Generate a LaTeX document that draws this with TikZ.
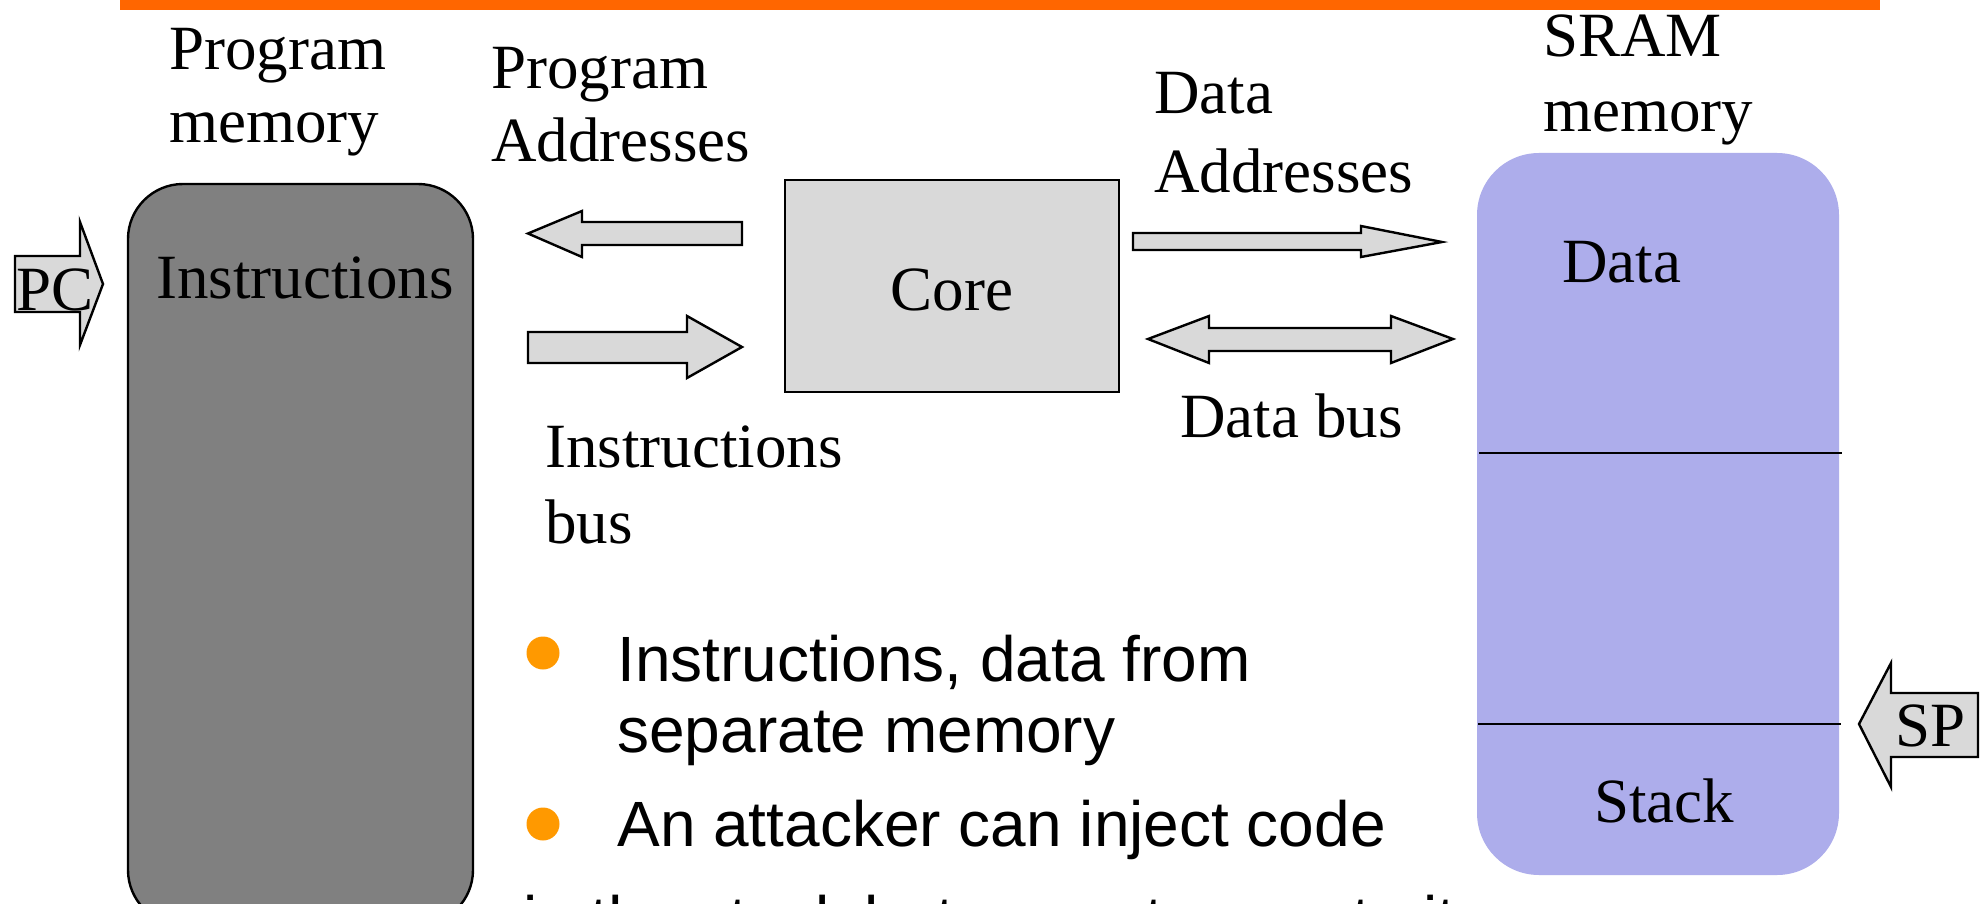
\documentclass[tikz,border=0pt]{standalone}
\usepackage{fontspec}
\setmainfont{Liberation Serif}
\newfontfamily\arialfont{Liberation Sans}
\definecolor{rulecolor}{RGB}{255,102,0}
\definecolor{dotorange}{RGB}{255,153,0}
\definecolor{progmem}{RGB}{128,128,128}
\definecolor{lightfill}{RGB}{217,217,217}
\definecolor{sramfill}{RGB}{173,173,235}
\tikzset{
  txt/.style={inner sep=0pt, anchor=base west, font=\fontsize{31.5}{37}\selectfont},
  bultxt/.style={inner sep=0pt, anchor=base west, font=\arialfont\fontsize{32}{38}\selectfont},
  blockarrow/.style={draw=black, fill=lightfill, line width=1.2pt, line join=miter},
  bulletdot/.style={circle, fill=dotorange, inner sep=0pt, minimum size=16.5pt},
}
\begin{document}
\begin{tikzpicture}[x=0.5pt, y=-0.5pt]
\useasboundingbox (0,0) rectangle (1988,904);
\fill[white] (0,0) rectangle (1988,904);

% title rule
\fill[rulecolor] (120,0) rectangle (1880,10);

% program memory
\draw[fill=progmem, line width=1.2pt, rounded corners=27.5pt] (128,184) rectangle (473,925);
\node[txt] (pm1) at (169,70) {Program};
\node[txt] (pm2) at (169,143) {memory};
\node[txt] (instr) at (156,298) {Instructions};

% PC pointer
\draw[blockarrow] (15,256) -- (80,256) -- (80,222) -- (103,284) -- (80,345) -- (80,312) -- (15,312) -- cycle;
\node[txt] (pc) at (16,310) {PC};

% core
\node[draw, fill=lightfill, line width=1.2pt, minimum width=167pt, minimum height=106pt, inner sep=0pt] (core) at (952,286) {};
\node[txt, anchor=base] (corelbl) at (952,310) {Core};

% program address bus (core -> program memory)
\draw[blockarrow] (742,222) -- (582,222) -- (582,211) -- (528,233.5) -- (582,257) -- (582,245) -- (742,245) -- cycle;
\node[txt] (pa1) at (491,89) {Program};
\node[txt] (pa2) at (491,162) {Addresses};

% instructions bus (program memory -> core)
\draw[blockarrow] (528,332) -- (687,332) -- (687,316) -- (742,347) -- (687,378) -- (687,363) -- (528,363) -- cycle;
\node[txt] (ib1) at (545,467) {Instructions};
\node[txt] (ib2) at (545,543) {bus};

% data address bus
\draw[blockarrow] (1133,233) -- (1361,233) -- (1361,226) -- (1442,242) -- (1361,257) -- (1361,250) -- (1133,250) -- cycle;
\node[txt] (da1) at (1154,114) {Data};
\node[txt] (da2) at (1154,192) {Addresses};

% data bus (both ways)
\draw[blockarrow] (1148,339) -- (1209,316) -- (1209,328) -- (1391,328) -- (1391,316) -- (1453,339) -- (1391,363) -- (1391,351) -- (1209,351) -- (1209,363) -- cycle;
\node[txt] (db) at (1180,437) {Data bus};

% SRAM
\fill[sramfill, rounded corners=31pt] (1477,153) rectangle (1839,875);
\draw[line width=1.2pt] (1479,453) -- (1842,453);
\draw[line width=1.2pt] (1478,724) -- (1841,724);
\node[txt] (sm1) at (1543,57) {SRAM};
\node[txt] (sm2) at (1543,132) {memory};
\node[txt] (sdata) at (1562,282) {Data};
\node[txt] (sstack) at (1594,822) {Stack};

% SP pointer
\draw[blockarrow] (1978,693) -- (1891,693) -- (1891,663) -- (1859,724) -- (1891,787) -- (1891,757) -- (1978,757) -- cycle;
\node[txt] (sp) at (1895,746) {SP};

% bullet list
\node[bulletdot] (dot1) at (543,653) {};
\node[bulletdot] (dot2) at (543,824) {};
\node[bultxt] (b1a) at (617,681) {Instructions, data from};
\node[bultxt] (b1b) at (617,752) {separate memory};
\node[bultxt] (b2) at (617,846) {An attacker can inject code};
\node[bultxt] (b3) at (523,941) {in the stack but cannot execute it};
\end{tikzpicture}
\end{document}
